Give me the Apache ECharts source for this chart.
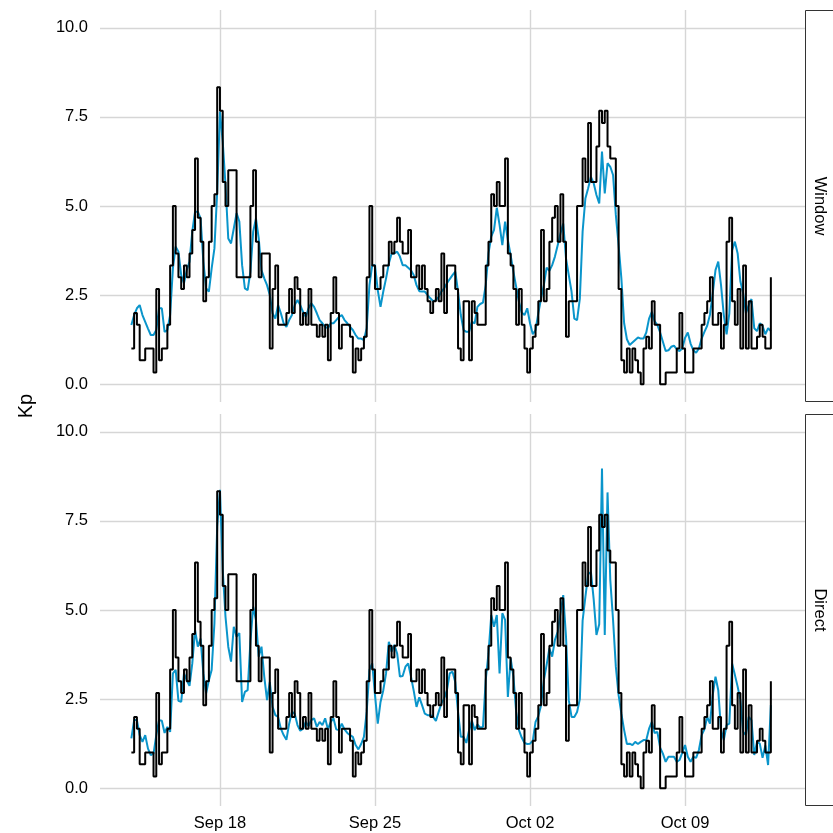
<!DOCTYPE html>
<html>
<head>
<meta charset="utf-8">
<script src="https://cdn.jsdelivr.net/npm/echarts@6/dist/echarts.min.js"></script>
<style>
  html, body { margin: 0; padding: 0; background: #fff; }
  #chart { width: 833px; height: 833px; }
</style>
</head>
<body>
<div id="chart"></div>
<script>
// 3-hourly values, first one at Sep 14 00:00
const STEP_HOURS = 3;

// observed Kp (black step line, same in both panels)
const kpObserved = [
  1, 2, 1.67, 0.67, 0.67, 1, 1, 1, 0.33, 2.67,
  0.67, 1, 1, 1.67, 3.33, 5, 3.67, 3, 2.67, 3.33,
  3, 3.67, 4.33, 6.33, 4.67, 4, 2.33, 3, 4, 5,
  5.33, 8.33, 7.67, 5.67, 5, 6, 6, 6, 3, 3,
  3, 3, 3, 5, 6, 4, 3, 3.67, 3.67, 3.67,
  1, 2.67, 3.33, 1.67, 1.67, 1.67, 2, 2.67, 2, 3,
  2.67, 1.67, 2, 1.67, 2.67, 1.67, 1.67, 1.33, 1.67, 1.33,
  1.67, 0.67, 2, 3, 2, 1, 1.67, 1.67, 1.67, 1.33,
  0.33, 1, 0.67, 1, 1.33, 3, 5, 3.33, 2.67, 2.67,
  3, 3.33, 3.33, 4, 3.67, 4, 4.67, 4, 3.67, 3.67,
  4.33, 3, 3, 3.33, 2.67, 3.33, 2.67, 2.33, 2, 2.33,
  2.67, 2.33, 3.67, 2, 3.33, 3.33, 3.33, 2.67, 1, 0.67,
  2.33, 2.33, 0.67, 2.33, 2, 1.67, 1.67, 1.67, 3.33, 4,
  5.33, 5, 5.67, 5, 5, 6.33, 3.67, 3.33, 2.67, 1.67,
  2.67, 1.67, 1, 0.33, 1, 1.33, 1.67, 2.33, 4.33, 2.33,
  2.67, 4, 4.67, 5, 4, 5.33, 4, 1.33, 2.33, 2.33,
  2.33, 5, 5, 6.33, 5.67, 7.33, 5.67, 5.67, 6.67, 7.67,
  7.33, 7.67, 6.67, 6.33, 6.33, 5, 2.67, 0.67, 0.33, 1,
  0.33, 1, 0.67, 0.33, 0, 1, 1.33, 1, 2.33, 1.67,
  1.67, 0, 0, 0.33, 0.33, 0.33, 0.33, 1, 2, 1,
  0.33, 0.33, 0.33, 1, 1, 1, 1.67, 2, 2.33, 3,
  1.67, 1.67, 2, 1, 1.67, 4, 4.67, 2.33, 1.67, 2.67,
  1, 3.33, 1, 2.33, 1, 1, 1.33, 1.67, 1.33, 1,
  1, 3
];

// predicted Kp, "Window" panel (blue)
const kpWindow = [
  1.66, 1.94, 2.13, 2.22, 1.94, 1.75, 1.56, 1.38, 1.38, 1.52,
  2.13, 2.13, 1.47, 1.52, 1.94, 3.25, 3.86, 3.72, 3.06, 2.83,
  3.2, 3.44, 4.28, 4.84, 4.84, 4.65, 3.44, 2.69, 2.6, 3.25,
  3.81, 5.4, 7.65, 6.8, 5.59, 4.09, 3.95, 4.37, 4.8, 4.56,
  3.34, 2.69, 2.64, 3.16, 4.28, 4.65, 4.09, 3.2, 2.97, 2.78,
  2.5, 1.99, 1.84, 2.22, 1.99, 1.71, 1.61, 1.8, 1.94, 2.22,
  2.36, 2.22, 2.03, 1.89, 2.13, 2.27, 2.17, 1.99, 1.8, 1.71,
  1.61, 1.57, 1.71, 1.71, 1.8, 1.89, 1.94, 1.8, 1.71, 1.61,
  1.52, 1.38, 1.28, 1.28, 1.24, 1.57, 2.78, 3.34, 3.34, 2.64,
  2.17, 2.6, 2.97, 3.39, 3.67, 3.67, 3.72, 3.58, 3.34, 3.34,
  3.27, 3.2, 3.06, 2.78, 2.61, 2.6, 2.6, 2.5, 2.41, 2.33,
  2.36, 2.45, 2.6, 2.69, 2.83, 2.95, 3.06, 3.16, 2.6, 1.94,
  1.52, 1.47, 1.47, 1.75, 1.71, 2.17, 2.25, 2.29, 2.78, 3.67,
  4.14, 4.33, 4.95, 4.47, 3.9, 4.56, 4.04, 3.62, 3.16, 2.73,
  2.31, 2.01, 1.94, 2.13, 1.71, 1.4, 1.52, 1.99, 2.41, 2.78,
  3.27, 3.18, 3.34, 3.58, 3.9, 4.23, 4.51, 3.53, 3.06, 2.6,
  1.84, 1.8, 2.4, 4.28, 5.21, 5.5, 5.82, 5.64, 5.31, 5.07,
  6.53, 5.35, 6.2, 6.1, 5.87, 4.75, 3.9, 2.97, 1.71, 1.26,
  1.1, 1.17, 1.24, 1.31, 1.28, 1.28, 1.45, 1.84, 2.03, 1.77,
  1.66, 1.45, 1.19, 0.93, 0.95, 1.05, 1.08, 0.98, 0.93, 1,
  1.3, 1.45, 1.14, 0.95, 0.88, 1, 1.28, 1.47, 1.64, 1.95,
  2.55, 3.2, 3.44, 2.78, 1.94, 1.4, 1.99, 3.76, 4, 3.67,
  2.88, 2.55, 1.99, 2.22, 2.39, 1.57, 1.49, 1.71, 1.64, 1.4,
  1.57, 1.49
];

// predicted Kp, "Direct" panel (blue)
const kpDirect = [
  1.4, 1.91, 1.91, 1.49, 1.3, 1.49, 1.11, 0.93, 0.97, 1.49,
  1.91, 1.89, 1.55, 1.72, 1.58, 3.22, 3.32, 2.45, 2.42, 3.22,
  3.03, 2.87, 3.5, 4.44, 3.97, 4.2, 3.22, 2.66, 3.03, 3.32,
  4.63, 7.34, 8.37, 6.12, 4.81, 3.97, 3.55, 4.53, 4.25, 4.35,
  2.42, 2.7, 2.75, 4.11, 5.09, 4.72, 3.69, 3.97, 3.13, 2.47,
  2.98, 2.28, 2.05, 2, 1.67, 1.49, 1.36, 1.81, 2.14, 2.09,
  1.77, 1.61, 1.67, 1.86, 1.74, 1.91, 1.96, 1.72, 1.86, 1.77,
  1.96, 1.65, 1.86, 1.96, 1.65, 1.63, 1.81, 1.65, 1.55, 1.49,
  1.44, 1.21, 1.09, 1.24, 1.44, 2.14, 3.32, 3.5, 2.61, 1.81,
  2.42, 2.75, 3.22, 4.11, 3.83, 4.02, 3.78, 3.13, 3.15, 3.41,
  3.5, 3.13, 2.73, 2.28, 2.55, 2.33, 2.09, 2.05, 2.05, 2,
  1.89, 2.14, 2.38, 2.52, 2.75, 3.22, 3.27, 2.98, 2.14, 1.44,
  1.44, 1.27, 1.63, 1.89, 1.63, 1.79, 1.7, 1.72, 3.03, 3.78,
  4.86, 4.53, 4.86, 3.22, 4.91, 4.72, 2.56, 3.64, 3.13, 2.14,
  1.63, 1.42, 1.27, 1.24, 1.25, 1.33, 1.86, 2.02, 2.33, 3.03,
  3.46, 3.92, 3.69, 4.16, 4.39, 4.91, 5.42, 4.25, 2.47, 2,
  2, 2.14, 2.5, 4.7, 5.37, 6, 6.07, 5.3, 4.3, 4.6,
  8.97, 4.3, 8.3, 5.84, 4.72, 3.41, 2.61, 2.09, 1.63, 1.24,
  1.25, 1.21, 1.3, 1.24, 1.3, 1.35, 1.35, 1.67, 1.86, 1.55,
  1.58, 1.14, 0.97, 0.74, 0.88, 0.88, 0.88, 0.74, 0.79, 1,
  1.21, 0.88, 0.74, 0.88, 0.85, 1.07, 1.49, 1.65, 2, 1.81,
  2.61, 3.13, 2.75, 1.63, 1.35, 1.77, 1.81, 3.5, 3.18, 2.85,
  2.47, 1.58, 1.49, 2, 1.91, 0.93, 1.3, 1.25, 0.85, 1.2,
  0.65, 2.33
];

// x axis: hours since Sep 14 00:00
const tickHours = [96, 264, 432, 600];
const tickLabels = ['Sep 18', 'Sep 25', 'Oct 02', 'Oct 09'];
const kpTicks = [0, 2.5, 5, 7.5, 10];
const panelNames = ['Window', 'Direct'];
const predictions = [kpWindow, kpDirect];

const BLUE = '#0a95cb';
const GRID_COLOR = '#d6d6d6';
const TEXT_COLOR = '#000';
const FONT = '"Liberation Sans", Arial, sans-serif';

function toPairs(values) {
  return values.map(function (v, i) {
    return [i * STEP_HOURS, v];
  });
}

const panelTops = [10, 414];
const panelHeight = 392;

const grids = panelTops.map(function (top) {
  return { left: 100, width: 705, top: top, height: panelHeight, containLabel: false };
});

const xAxes = panelNames.map(function (name, k) {
  return {
    type: 'value',
    gridIndex: k,
    min: -34,
    max: 730,
    axisLine: { show: false },
    axisTick: { show: false, customValues: tickHours },
    splitLine: { show: true, lineStyle: { color: GRID_COLOR, width: 1.4 } },
    axisLabel: {
      show: k === panelNames.length - 1,
      customValues: tickHours,
      margin: 9,
      fontSize: 16.5,
      fontFamily: FONT,
      color: TEXT_COLOR,
      formatter: function (v) {
        const idx = tickHours.indexOf(v);
        return idx >= 0 ? tickLabels[idx] : '';
      }
    }
  };
});

const yAxes = panelNames.map(function (name, k) {
  return {
    type: 'value',
    gridIndex: k,
    min: -0.5,
    max: 10.5,
    axisLine: { show: false },
    axisTick: { show: false, customValues: kpTicks },
    splitLine: { show: true, lineStyle: { color: GRID_COLOR, width: 1.4 } },
    axisLabel: {
      customValues: kpTicks,
      margin: 12,
      fontSize: 16.5,
      fontFamily: FONT,
      color: TEXT_COLOR,
      formatter: function (v) { return v.toFixed(1); }
    }
  };
});

const series = [];
panelNames.forEach(function (name, k) {
  series.push({
    name: name + ' prediction',
    type: 'line',
    xAxisIndex: k,
    yAxisIndex: k,
    data: toPairs(predictions[k]),
    showSymbol: false,
    lineStyle: { color: BLUE, width: 2 },
    z: 2
  });
  series.push({
    name: name + ' observed',
    type: 'line',
    step: 'end',
    xAxisIndex: k,
    yAxisIndex: k,
    data: toPairs(kpObserved),
    showSymbol: false,
    lineStyle: { color: '#000', width: 2 },
    z: 3
  });
});

const graphics = [{
  type: 'text',
  x: 26,
  y: 406,
  rotation: Math.PI / 2,
  style: {
    text: 'Kp',
    fontSize: 20,
    fontFamily: FONT,
    fill: TEXT_COLOR,
    align: 'center',
    verticalAlign: 'middle'
  }
}];
panelNames.forEach(function (name, k) {
  graphics.push({
    type: 'rect',
    shape: { x: 805.5, y: panelTops[k] + 0.5, width: 40, height: panelHeight - 1 },
    style: { fill: '#fff', stroke: '#333', lineWidth: 1 }
  });
  graphics.push({
    type: 'text',
    x: 820,
    y: panelTops[k] + panelHeight / 2,
    rotation: -Math.PI / 2,
    style: {
      text: name,
      fontSize: 16.5,
      fontFamily: FONT,
      fill: TEXT_COLOR,
      align: 'center',
      verticalAlign: 'middle'
    }
  });
});

const chart = echarts.init(document.getElementById('chart'), null, { renderer: 'canvas' });
chart.setOption({
  animation: false,
  backgroundColor: '#fff',
  grid: grids,
  xAxis: xAxes,
  yAxis: yAxes,
  series: series,
  graphic: graphics
});
</script>
</body>
</html>
